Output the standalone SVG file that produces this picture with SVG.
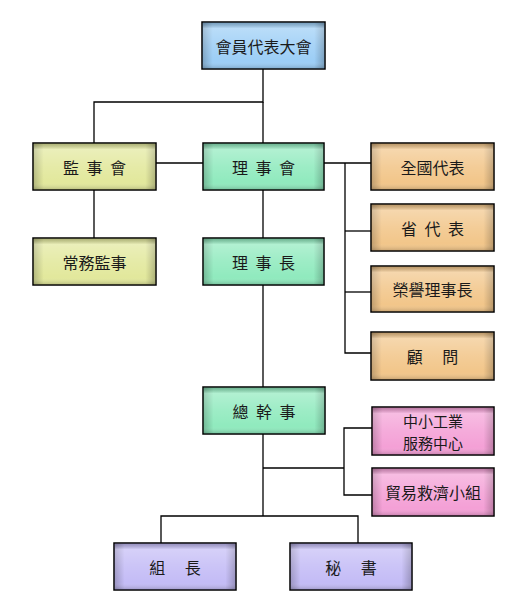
<svg xmlns="http://www.w3.org/2000/svg" width="526" height="612" viewBox="0 0 526 612">
<style>
.box{stroke:#000;stroke-width:1.5}
.ov{fill:url(#side)}
.hl{fill:url(#top)}
.t{font-family:"Noto Sans CJK TC","Noto Sans CJK SC",sans-serif;font-size:16px;fill:#1a1a1a;text-anchor:middle;dominant-baseline:central}
.sp{word-spacing:4px}
.s2{font-size:15px}
.c{fill:none;stroke:#000;stroke-width:1.3}
</style>
<defs>
<linearGradient id="side" x1="0" y1="0" x2="1" y2="0">
<stop offset="0" stop-color="#000" stop-opacity="0.2"/>
<stop offset="0.08" stop-color="#000" stop-opacity="0"/>
<stop offset="0.92" stop-color="#000" stop-opacity="0"/>
<stop offset="1" stop-color="#000" stop-opacity="0.22"/>
</linearGradient>
<linearGradient id="top" x1="0" y1="0" x2="0" y2="1">
<stop offset="0" stop-color="#000" stop-opacity="0.22"/>
<stop offset="0.12" stop-color="#fff" stop-opacity="0.3"/>
<stop offset="0.5" stop-color="#fff" stop-opacity="0.12"/>
<stop offset="0.85" stop-color="#fff" stop-opacity="0"/>
<stop offset="1" stop-color="#000" stop-opacity="0.15"/>
</linearGradient>
</defs>
<g id="connectors">
<path class="c" d="M263,69 V102 H94 V143"/>
<path class="c" d="M94,190 V238"/>
<path class="c" d="M156,163 H203"/>
<path class="c" d="M263,102 V143"/>
<path class="c" d="M263,190 V238"/>
<path class="c" d="M324,163 H371"/>
<path class="c" d="M345,163 V353 H371"/>
<path class="c" d="M345,231 H371"/>
<path class="c" d="M345,292 H371"/>
<path class="c" d="M263,285 V387"/>
<path class="c" d="M263,434 V516"/>
<path class="c" d="M263,468 H344"/>
<path class="c" d="M372,428 H344 V495 H372"/>
<path class="c" d="M161,543 V516 H358 V543"/>
</g>
<g id="n-assembly">
<rect class="box" x="202" y="22" width="123" height="47" fill="#9ccef6"/>
<rect class="ov" x="203" y="23" width="121" height="45"/><rect class="hl" x="203" y="23" width="121" height="45"/>
<text class="t" x="263.5" y="46">會員代表大會</text>
</g>
<g id="n-supervisors">
<rect class="box" x="33" y="143" width="123" height="47" fill="#e2e89c"/>
<rect class="ov" x="34" y="144" width="121" height="45"/><rect class="hl" x="34" y="144" width="121" height="45"/>
<text class="t sp" x="94.5" y="167" xml:space="preserve">監 事 會</text>
</g>
<g id="n-board">
<rect class="box" x="203" y="143" width="121" height="47" fill="#90eabe"/>
<rect class="ov" x="204" y="144" width="119" height="45"/><rect class="hl" x="204" y="144" width="119" height="45"/>
<text class="t sp" x="263.5" y="167" xml:space="preserve">理 事 會</text>
</g>
<g id="n-standing">
<rect class="box" x="33" y="238" width="123" height="47" fill="#e2e89c"/>
<rect class="ov" x="34" y="239" width="121" height="45"/><rect class="hl" x="34" y="239" width="121" height="45"/>
<text class="t" x="94.5" y="262">常務監事</text>
</g>
<g id="n-chairman">
<rect class="box" x="203" y="238" width="121" height="47" fill="#90eabe"/>
<rect class="ov" x="204" y="239" width="119" height="45"/><rect class="hl" x="204" y="239" width="119" height="45"/>
<text class="t sp" x="263.5" y="262" xml:space="preserve">理 事 長</text>
</g>
<g id="n-national">
<rect class="box" x="371" y="143" width="123" height="47" fill="#f2c68a"/>
<rect class="ov" x="372" y="144" width="121" height="45"/><rect class="hl" x="372" y="144" width="121" height="45"/>
<text class="t" x="432.5" y="167">全國代表</text>
</g>
<g id="n-provincial">
<rect class="box" x="371" y="204" width="123" height="47" fill="#f2c68a"/>
<rect class="ov" x="372" y="205" width="121" height="45"/><rect class="hl" x="372" y="205" width="121" height="45"/>
<text class="t sp" x="432.5" y="228" xml:space="preserve">省 代 表</text>
</g>
<g id="n-honorary">
<rect class="box" x="371" y="266" width="123" height="46" fill="#f2c68a"/>
<rect class="ov" x="372" y="267" width="121" height="44"/><rect class="hl" x="372" y="267" width="121" height="44"/>
<text class="t" x="432.5" y="289">榮譽理事長</text>
</g>
<g id="n-advisor">
<rect class="box" x="371" y="332" width="123" height="48" fill="#f2c68a"/>
<rect class="ov" x="372" y="333" width="121" height="46"/><rect class="hl" x="372" y="333" width="121" height="46"/>
<text class="t" x="432.5" y="356" xml:space="preserve">顧　 問</text>
</g>
<g id="n-secgen">
<rect class="box" x="203" y="387" width="122" height="47" fill="#90eabe"/>
<rect class="ov" x="204" y="388" width="120" height="45"/><rect class="hl" x="204" y="388" width="120" height="45"/>
<text class="t sp" x="264" y="411" xml:space="preserve">總 幹 事</text>
</g>
<g id="n-sme">
<rect class="box" x="372" y="407" width="122" height="48" fill="#f4a0d6"/>
<rect class="ov" x="373" y="408" width="120" height="46"/><rect class="hl" x="373" y="408" width="120" height="46"/>
<text class="t s2" x="433" y="420">中小工業</text>
<text class="t s2" x="433" y="442">服務中心</text>
</g>
<g id="n-trade">
<rect class="box" x="372" y="468" width="122" height="48" fill="#f4a0d6"/>
<rect class="ov" x="373" y="469" width="120" height="46"/><rect class="hl" x="373" y="469" width="120" height="46"/>
<text class="t" x="433" y="492">貿易救濟小組</text>
</g>
<g id="n-leader">
<rect class="box" x="114" y="543" width="122" height="47" fill="#c4bcf6"/>
<rect class="ov" x="115" y="544" width="120" height="45"/><rect class="hl" x="115" y="544" width="120" height="45"/>
<text class="t" x="175" y="567" xml:space="preserve">組　 長</text>
</g>
<g id="n-secretary">
<rect class="box" x="290" y="543" width="122" height="47" fill="#c4bcf6"/>
<rect class="ov" x="291" y="544" width="120" height="45"/><rect class="hl" x="291" y="544" width="120" height="45"/>
<text class="t" x="351" y="567" xml:space="preserve">秘　 書</text>
</g>
</svg>
